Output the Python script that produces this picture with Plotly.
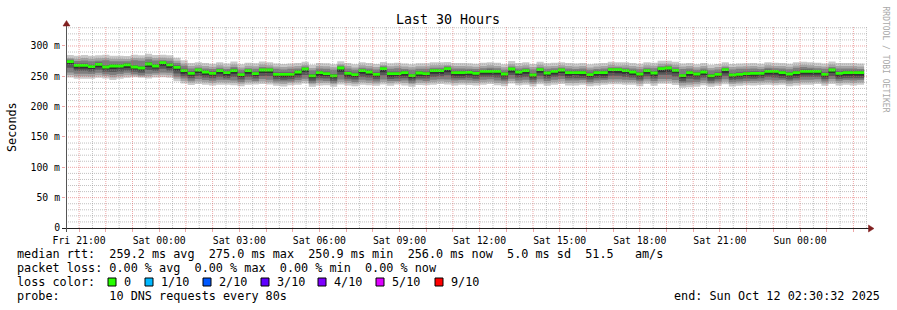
import plotly.graph_objects as go
from datetime import datetime, timedelta

# ---------------- data ----------------
# median rtt per 960 s step (ms)
median_ms = [274.2, 268.1, 268.1, 265.9, 269.8, 265.4, 267.0, 267.0, 268.7, 265.4, 263.7, 270.3, 267.0, 272.5, 268.7, 264.8,
             259.3, 254.9, 260.4, 257.1, 254.9, 259.3, 256.0, 259.3, 252.7, 259.3, 254.4, 260.4, 260.4, 253.3, 253.3, 253.3,
             257.1, 262.1, 250.9, 256.0, 254.4, 250.9, 263.7, 254.9, 252.7, 259.3, 257.1, 253.3, 262.6, 254.4, 254.4, 256.0,
             251.0, 255.5, 254.4, 259.3, 259.3, 262.6, 256.0, 256.0,
             256.6, 254.9, 258.2, 258.2, 258.2, 253.8, 262.1, 257.1, 259.3, 252.2, 261.0, 255.5, 258.2, 260.4, 256.0, 256.0,
             256.0, 252.7, 256.0, 256.0, 261.0, 261.0, 259.3, 257.1, 253.8, 259.3, 255.5, 262.6, 263.7, 259.9, 251.0, 256.0,
             253.8, 257.1, 250.9, 253.3, 261.0, 252.2, 253.3, 254.4, 254.9, 254.9, 258.2, 258.2, 256.0, 253.8, 256.0, 258.2,
             258.2, 258.2, 253.3, 260.4, 254.9, 256.0, 256.0, 256.0]

# smoke: offsets (ms) of the sorted ping ranks relative to the median
p10_off = [11, 16, 17, 18, 15, 20, 17, 17, 15, 20, 21, 17, 18, 13, 16, 16,
           17, 17, 13, 15, 16, 14, 15, 15, 17, 13, 17, 14, 13, 18, 17, 18, 15, 12, 18, 16, 17, 19, 11, 17, 17, 14, 15, 17, 11, 17, 18, 15, 19, 16, 17, 14, 14, 11, 16, 16,
           15, 16, 14, 15, 14, 16, 13, 15, 14, 18, 13, 16, 14, 13, 16, 15, 16, 17, 15, 16, 13, 12, 14, 15, 17, 14, 17, 13, 12, 14, 20, 16, 16, 15, 18, 17, 12, 18, 18, 17,
           17, 16, 15, 14, 16, 17, 17, 16, 15, 14, 18, 14, 17, 16, 16, 15]
p9_off = [6, 11, 12, 13, 10, 15, 12, 12, 10, 15, 16, 12, 13, 8, 11, 11,
          12, 12, 8, 10, 11, 9, 10, 10, 12, 8, 12, 9, 8, 13, 12, 13, 10, 7, 13, 11, 12, 14, 6, 12, 12, 9, 10, 12, 6, 12, 13, 10, 14, 11, 12, 9, 9, 6, 11, 11,
          10, 11, 9, 10, 9, 11, 8, 10, 9, 13, 8, 11, 9, 8, 11, 10, 11, 12, 10, 11, 8, 7, 9, 10, 12, 9, 12, 8, 7, 9, 15, 11, 11, 10, 13, 12, 7, 13, 13, 12,
          12, 11, 10, 9, 11, 12, 12, 11, 10, 9, 13, 9, 12, 11, 11, 10]
p8_off = [4, 7, 8, 9, 6, 11, 8, 8, 6, 11, 12, 8, 9, 4, 7, 7,
          8, 8, 4, 6, 7, 5, 6, 6, 8, 4, 8, 5, 4, 9, 8, 9, 6, 4, 9, 7, 8, 10, 4, 8, 8, 5, 6, 8, 4, 8, 9, 6, 10, 7, 8, 5, 5, 4, 7, 7,
          6, 7, 5, 6, 5, 7, 4, 6, 5, 9, 4, 7, 5, 4, 7, 6, 7, 8, 6, 7, 4, 4, 5, 6, 8, 5, 8, 4, 4, 5, 11, 7, 7, 6, 9, 8, 4, 9, 9, 8,
          8, 7, 6, 5, 7, 8, 8, 7, 6, 5, 9, 5, 8, 7, 7, 6]
p7_off = [2, 3, 3, 3, 3, 3, 3, 3, 3, 3, 3, 3, 3, 2, 3, 3,
          3, 3, 2, 3, 3, 2, 3, 3, 3, 2, 3, 2, 2, 3, 3, 3, 3, 2, 3, 3, 3, 3, 2, 3, 3, 2, 3, 3, 2, 3, 3, 3, 3, 3, 3, 2, 2, 2, 3, 3,
          3, 3, 2, 3, 2, 3, 2, 3, 2, 3, 2, 3, 2, 2, 3, 3, 3, 3, 3, 3, 2, 2, 2, 3, 3, 2, 3, 2, 2, 2, 3, 3, 3, 3, 3, 3, 2, 3, 3, 3,
          3, 3, 3, 2, 3, 3, 3, 3, 3, 2, 3, 2, 3, 3, 3, 3]
p5_off = [-4, -5, -5, -4, -5, -4, -5, -4, -5, -4, -4, -5, -4, -5, -5, -5,
          -5, -4, -5, -5, -4, -5, -5, -5, -4, -5, -4, -5, -5, -4, -5, -4, -5, -5, -4, -5, -4, -4, -6, -5, -4, -5, -5, -4, -6, -5, -4, -5, -4, -5, -4, -5, -5, -6, -5, -5,
          -5, -4, -5, -5, -5, -4, -6, -5, -5, -4, -5, -5, -5, -5, -5, -4, -5, -4, -5, -5, -5, -6, -5, -5, -4, -5, -5, -6, -6, -5, -4, -5, -4, -5, -4, -4, -6, -4, -4, -4,
          -5, -4, -5, -5, -5, -4, -5, -5, -5, -5, -4, -5, -5, -5, -5, -5]
p4_off = [-10, -9, -9, -8, -9, -8, -10, -9, -9, -8, -8, -10, -8, -10, -9, -10,
          -9, -8, -10, -9, -8, -10, -9, -10, -8, -10, -8, -10, -10, -8, -9, -8, -9, -10, -8, -9, -8, -8, -11, -9, -8, -10, -9, -8, -11, -9, -8, -9, -8, -9, -8, -10, -9, -11, -9, -9,
          -9, -9, -9, -9, -10, -9, -10, -9, -10, -8, -10, -9, -9, -10, -9, -9, -9, -8, -9, -9, -10, -10, -10, -9, -9, -9, -9, -10, -11, -10, -9, -10, -9, -9, -8, -8, -10, -8, -8, -8,
          -9, -8, -9, -10, -9, -9, -9, -9, -9, -9, -8, -10, -9, -9, -9, -9]
p3_off = [-18, -14, -14, -12, -14, -12, -15, -13, -13, -12, -12, -16, -12, -16, -13, -15,
          -13, -12, -15, -13, -12, -15, -12, -16, -12, -15, -12, -15, -16, -12, -12, -12, -13, -16, -12, -13, -12, -12, -19, -12, -12, -15, -14, -12, -18, -12, -12, -13, -12, -12, -12, -15, -14, -18, -13, -12,
          -13, -12, -14, -13, -15, -12, -16, -14, -15, -12, -16, -13, -14, -15, -13, -13, -12, -12, -13, -12, -16, -16, -15, -13, -12, -14, -13, -17, -18, -16, -12, -16, -13, -14, -12, -12, -16, -12, -12, -12,
          -12, -12, -14, -15, -12, -12, -13, -14, -14, -13, -12, -15, -12, -12, -13, -12]
p2_off = [-22, -18, -18, -16, -18, -15, -19, -17, -17, -14, -14, -20, -15, -20, -17, -19,
          -17, -15, -19, -17, -16, -19, -16, -20, -15, -19, -14, -19, -20, -15, -16, -14, -17, -20, -14, -17, -15, -14, -23, -16, -15, -19, -18, -15, -22, -16, -14, -17, -14, -16, -15, -19, -18, -22, -17, -16,
          -17, -16, -18, -17, -19, -16, -20, -18, -19, -15, -20, -17, -18, -19, -17, -17, -16, -15, -17, -16, -20, -20, -19, -17, -16, -18, -17, -21, -22, -20, -16, -20, -17, -18, -14, -15, -20, -15, -15, -15,
          -16, -15, -18, -19, -16, -16, -17, -18, -18, -17, -15, -19, -16, -16, -17, -16]
p1_off = [-26, -22, -22, -20, -22, -19, -23, -21, -21, -17, -16, -24, -19, -24, -21, -23,
          -21, -19, -23, -21, -20, -23, -20, -24, -19, -23, -18, -23, -24, -19, -20, -18, -21, -24, -18, -21, -19, -18, -27, -20, -19, -23, -22, -19, -26, -20, -18, -21, -18, -20, -19, -23, -22, -26, -21, -20,
          -21, -20, -22, -21, -23, -20, -24, -22, -23, -19, -24, -21, -22, -23, -21, -21, -20, -19, -21, -20, -24, -24, -23, -21, -20, -22, -21, -25, -26, -24, -20, -24, -21, -22, -18, -19, -24, -19, -19, -19,
          -20, -19, -22, -23, -20, -20, -21, -22, -22, -21, -19, -23, -20, -20, -21, -20]

y_tick_values = [0, 50, 100, 150, 200, 250, 300]
y_tick_labels = ["0", "50 m", "100 m", "150 m", "200 m", "250 m", "300 m"]
x_tick_labels = ["Fri 21:00", "Sat 00:00", "Sat 03:00", "Sat 06:00", "Sat 09:00",
                 "Sat 12:00", "Sat 15:00", "Sat 18:00", "Sat 21:00", "Sun 00:00"]
loss_labels = ["0", "1/10", "2/10", "3/10", "4/10", "5/10", "9/10"]
loss_colors = ["#26ff00", "#00b8ff", "#0059ff", "#5e00ff", "#7e00ff", "#dd00ff", "#ff0000"]

legend_rtt = "median rtt:  259.2 ms avg  275.0 ms max  250.9 ms min  256.0 ms now  5.0 ms sd  51.5   am/s"
legend_loss = "packet loss: 0.00 % avg  0.00 % max  0.00 % min  0.00 % now"
legend_color = "loss color:"
legend_probe = "probe:       10 DNS requests every 80s"
legend_end = "end: Sun Oct 12 02:30:32 2025"

# ---------------- geometry ----------------
W, H = 897, 310
ML, MR, MT, MB = 66, 30, 27, 82
PW, PH = W - ML - MR, H - MT - MB
Y_MAX = 331.3
MONO = "DejaVu Sans Mono"


def px(x):
    return (x - ML) / PW


def py(y):
    return (H - MB - y) / PH


END = datetime(2025, 10, 12, 2, 30, 32)
START = END - timedelta(hours=30)
LAST_EDGE = datetime(2025, 10, 12, 2, 24, 0)
STEP = timedelta(seconds=960)
n = len(median_ms)
edges = [LAST_EDGE - STEP * (n - i) for i in range(n + 1)]


def rank(offs):
    return [m + o for m, o in zip(median_ms, offs)]


def stepped(vals):
    return list(vals) + [vals[-1]]


fig = go.Figure()


def add_band(lo, hi, color):
    fig.add_trace(go.Scatter(x=edges, y=stepped(lo), mode="lines",
                             line=dict(width=0, shape="hv"), hoverinfo="skip", showlegend=False))
    fig.add_trace(go.Scatter(x=edges, y=stepped(hi), mode="lines",
                             line=dict(width=0, shape="hv"), fill="tonexty", fillcolor=color,
                             hoverinfo="skip", showlegend=False))


add_band(rank(p1_off), rank(p10_off), "#cacaca")
add_band(rank(p2_off), rank(p9_off), "#a4a4a4")
add_band(rank(p3_off), rank(p8_off), "#7e7e7e")
add_band(rank(p4_off), rank(p7_off), "#585858")
add_band(rank(p5_off), median_ms, "#323232")
# median bar (loss 0 colour)
add_band([m - 2.3 for m in median_ms], [m + 2.3 for m in median_ms], loss_colors[0])

# ---------------- grid (drawn above the smoke, like rrdtool) ----------------
GRID = "rgba(143,143,143,0.55)"
MGRID = "rgba(222,79,79,0.5)"
ARROW = "#801f1f"
AXIS = "#1f1f1f"
shapes = []
first_hour = datetime(2025, 10, 10, 21, 0)
hours = [first_hour + timedelta(hours=h) for h in range(30)]
halfs = [first_hour + timedelta(minutes=30 + 60 * h) for h in range(30)]
for t in halfs:
    if t < END:
        shapes.append(dict(type="line", xref="x", yref="y", x0=t, x1=t, y0=0, y1=Y_MAX,
                           line=dict(color=GRID, width=1, dash="1px,1px"), layer="above"))
for v in range(10, 340, 10):
    if v % 50 and v <= Y_MAX:
        shapes.append(dict(type="line", xref="x", yref="y", x0=START, x1=END, y0=v, y1=v,
                           line=dict(color=GRID, width=1, dash="1px,1px"), layer="above"))
for t in hours:
    shapes.append(dict(type="line", xref="x", yref="y", x0=t, x1=t, y0=0, y1=Y_MAX,
                       line=dict(color=MGRID, width=1, dash="1px,1px"), layer="above"))
for v in y_tick_values[1:]:
    shapes.append(dict(type="line", xref="x", yref="y", x0=START, x1=END, y0=v, y1=v,
                       line=dict(color=MGRID, width=1, dash="1px,1px"), layer="above"))

# axes lines and arrows
shapes.append(dict(type="line", xref="paper", yref="paper", x0=px(62), x1=px(871), y0=py(228.5), y1=py(228.5),
                   line=dict(color=AXIS, width=1), layer="above"))
shapes.append(dict(type="line", xref="paper", yref="paper", x0=px(66.5), x1=px(66.5), y0=py(232), y1=py(23),
                   line=dict(color="#555555", width=1), layer="above"))
shapes.append(dict(type="path", xref="paper", yref="paper",
                   path="M %f %f L %f %f L %f %f Z" % (px(868.5), py(225), px(868.5), py(232), px(874), py(228.5)),
                   fillcolor=ARROW, line=dict(color=ARROW, width=0.5), layer="above"))
shapes.append(dict(type="path", xref="paper", yref="paper",
                   path="M %f %f L %f %f L %f %f Z" % (px(63), py(26), px(70), py(26), px(66.5), py(20.5)),
                   fillcolor=ARROW, line=dict(color=ARROW, width=0.5), layer="above"))

# loss colour legend boxes
label_x = [123, 160, 218, 276, 333, 391, 450]
annotations = []
for lx, lab, col in zip(label_x, loss_labels, loss_colors):
    shapes.append(dict(type="rect", xref="paper", yref="paper", x0=px(lx - 15), x1=px(lx - 7),
                       y0=py(286), y1=py(278), fillcolor=col, line=dict(color="#000000", width=1)))
    annotations.append(dict(text=lab, x=px(lx - 1), y=py(282), xref="paper", yref="paper",
                            xanchor="left", yanchor="middle", showarrow=False,
                            font=dict(family=MONO, size=11.8, color="#000000")))


def nb(s):
    return s.replace(" ", "\u00a0")


for txt, yy in [(legend_rtt, 254), (legend_loss, 268), (legend_color, 282), (legend_probe, 296)]:
    annotations.append(dict(text=nb(txt), x=px(15), y=py(yy), xref="paper", yref="paper",
                            xanchor="left", yanchor="middle", showarrow=False,
                            font=dict(family=MONO, size=11.8, color="#000000")))
annotations.append(dict(text=nb(legend_end), x=px(882), y=py(296), xref="paper", yref="paper",
                        xanchor="right", yanchor="middle", showarrow=False,
                        font=dict(family=MONO, size=11.8, color="#000000")))
annotations.append(dict(text="Last 30 Hours", x=px(448), y=py(19.5), xref="paper", yref="paper",
                        xanchor="center", yanchor="middle", showarrow=False,
                        font=dict(family=MONO, size=13.3, color="#000000")))
annotations.append(dict(text="Seconds", x=px(11.5), y=py(127.5), xref="paper", yref="paper",
                        xanchor="center", yanchor="middle", textangle=-90, showarrow=False,
                        font=dict(family=MONO, size=11.8, color="#000000")))
annotations.append(dict(text="RRDTOOL / TOBI OETIKER", x=px(885.5), y=py(59), xref="paper", yref="paper",
                        xanchor="center", yanchor="middle", textangle=90, showarrow=False,
                        font=dict(family=MONO, size=8, color="#a8a8a8")))

x_ticktext = []
for t in hours:
    if t.hour % 3 == 0:
        k = int((t - first_hour).total_seconds() // 3600) // 3
        x_ticktext.append(x_tick_labels[k])
    else:
        x_ticktext.append("")

fig.update_layout(
    width=W, height=H,
    margin=dict(l=ML, r=MR, t=MT, b=MB, pad=0),
    paper_bgcolor="#ffffff", plot_bgcolor="#ffffff",
    showlegend=False, hovermode=False,
    shapes=shapes, annotations=annotations,
    xaxis=dict(type="date", range=[START, END], showgrid=False, zeroline=False, showline=False,
               tickvals=hours, ticktext=x_ticktext, ticks="outside", ticklen=3, tickcolor=MGRID,
               tickfont=dict(family=MONO, size=9.8, color="#000000"), fixedrange=True),
    yaxis=dict(range=[0, Y_MAX], showgrid=False, zeroline=False, showline=False,
               tickvals=y_tick_values, ticktext=y_tick_labels, ticks="outside", ticklen=3, tickcolor=MGRID,
               tickfont=dict(family=MONO, size=9.8, color="#000000"), fixedrange=True),
)

fig.write_html("out.html")
